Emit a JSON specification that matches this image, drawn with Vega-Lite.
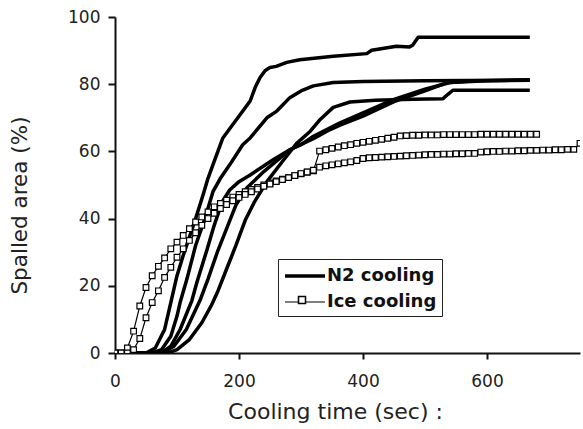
{
  "$schema": "https://vega.github.io/schema/vega-lite/v6.json",
  "width": 465,
  "height": 336,
  "autosize": {"type": "none"},
  "padding": {"left": 115, "top": 17, "right": 3, "bottom": 76},
  "background": "white",
  "config": {"view": {"stroke": null}},
  "data": {"values": [
    {"s":"A","g":"N2 cooling","t":0,"v":0},{"s":"A","g":"N2 cooling","t":50,"v":0},{"s":"A","g":"N2 cooling","t":65,"v":1.5},{"s":"A","g":"N2 cooling","t":80,"v":7},{"s":"A","g":"N2 cooling","t":90,"v":15},{"s":"A","g":"N2 cooling","t":100,"v":23},{"s":"A","g":"N2 cooling","t":110,"v":29},{"s":"A","g":"N2 cooling","t":120,"v":34.5},{"s":"A","g":"N2 cooling","t":130,"v":40},{"s":"A","g":"N2 cooling","t":142,"v":47},{"s":"A","g":"N2 cooling","t":150,"v":52},{"s":"A","g":"N2 cooling","t":160,"v":57},{"s":"A","g":"N2 cooling","t":174,"v":64},{"s":"A","g":"N2 cooling","t":190,"v":68},{"s":"A","g":"N2 cooling","t":202,"v":71},{"s":"A","g":"N2 cooling","t":210,"v":73},{"s":"A","g":"N2 cooling","t":218,"v":75},{"s":"A","g":"N2 cooling","t":226,"v":79},{"s":"A","g":"N2 cooling","t":234,"v":82},{"s":"A","g":"N2 cooling","t":242,"v":84},{"s":"A","g":"N2 cooling","t":250,"v":85},{"s":"A","g":"N2 cooling","t":260,"v":85.3},{"s":"A","g":"N2 cooling","t":277,"v":86.5},{"s":"A","g":"N2 cooling","t":298,"v":87.3},{"s":"A","g":"N2 cooling","t":352,"v":88.3},{"s":"A","g":"N2 cooling","t":406,"v":89.1},{"s":"A","g":"N2 cooling","t":414,"v":90.1},{"s":"A","g":"N2 cooling","t":454,"v":91.3},{"s":"A","g":"N2 cooling","t":475,"v":91.1},{"s":"A","g":"N2 cooling","t":480,"v":91.6},{"s":"A","g":"N2 cooling","t":489,"v":94},{"s":"A","g":"N2 cooling","t":669,"v":94},
    {"s":"B","g":"N2 cooling","t":0,"v":0},{"s":"B","g":"N2 cooling","t":60,"v":0},{"s":"B","g":"N2 cooling","t":75,"v":1},{"s":"B","g":"N2 cooling","t":90,"v":5},{"s":"B","g":"N2 cooling","t":100,"v":11},{"s":"B","g":"N2 cooling","t":105,"v":15},{"s":"B","g":"N2 cooling","t":116,"v":22},{"s":"B","g":"N2 cooling","t":130,"v":32},{"s":"B","g":"N2 cooling","t":145,"v":40},{"s":"B","g":"N2 cooling","t":158,"v":48},{"s":"B","g":"N2 cooling","t":170,"v":52},{"s":"B","g":"N2 cooling","t":185,"v":56},{"s":"B","g":"N2 cooling","t":206,"v":62},{"s":"B","g":"N2 cooling","t":218,"v":64},{"s":"B","g":"N2 cooling","t":245,"v":70},{"s":"B","g":"N2 cooling","t":261,"v":72},{"s":"B","g":"N2 cooling","t":282,"v":76},{"s":"B","g":"N2 cooling","t":300,"v":78},{"s":"B","g":"N2 cooling","t":320,"v":79.5},{"s":"B","g":"N2 cooling","t":352,"v":80.5},{"s":"B","g":"N2 cooling","t":400,"v":80.8},{"s":"B","g":"N2 cooling","t":500,"v":81},{"s":"B","g":"N2 cooling","t":669,"v":81.2},
    {"s":"C","g":"N2 cooling","t":0,"v":0},{"s":"C","g":"N2 cooling","t":75,"v":0},{"s":"C","g":"N2 cooling","t":90,"v":2},{"s":"C","g":"N2 cooling","t":105,"v":7},{"s":"C","g":"N2 cooling","t":124,"v":15.6},{"s":"C","g":"N2 cooling","t":132,"v":21},{"s":"C","g":"N2 cooling","t":148,"v":30.5},{"s":"C","g":"N2 cooling","t":160,"v":38},{"s":"C","g":"N2 cooling","t":173,"v":45},{"s":"C","g":"N2 cooling","t":185,"v":48.5},{"s":"C","g":"N2 cooling","t":200,"v":51},{"s":"C","g":"N2 cooling","t":218,"v":53},{"s":"C","g":"N2 cooling","t":255,"v":57.5},{"s":"C","g":"N2 cooling","t":282,"v":60.5},{"s":"C","g":"N2 cooling","t":300,"v":62},{"s":"C","g":"N2 cooling","t":320,"v":64.5},{"s":"C","g":"N2 cooling","t":363,"v":68.5},{"s":"C","g":"N2 cooling","t":400,"v":71.5},{"s":"C","g":"N2 cooling","t":450,"v":75.5},{"s":"C","g":"N2 cooling","t":500,"v":78.5},{"s":"C","g":"N2 cooling","t":540,"v":80.5},{"s":"C","g":"N2 cooling","t":600,"v":81},{"s":"C","g":"N2 cooling","t":669,"v":81.3},
    {"s":"D","g":"N2 cooling","t":0,"v":0},{"s":"D","g":"N2 cooling","t":75,"v":0},{"s":"D","g":"N2 cooling","t":95,"v":2},{"s":"D","g":"N2 cooling","t":115,"v":7},{"s":"D","g":"N2 cooling","t":137,"v":15.6},{"s":"D","g":"N2 cooling","t":150,"v":22},{"s":"D","g":"N2 cooling","t":165,"v":30},{"s":"D","g":"N2 cooling","t":180,"v":37},{"s":"D","g":"N2 cooling","t":195,"v":44},{"s":"D","g":"N2 cooling","t":212,"v":49},{"s":"D","g":"N2 cooling","t":240,"v":54},{"s":"D","g":"N2 cooling","t":266,"v":58},{"s":"D","g":"N2 cooling","t":282,"v":60.5},{"s":"D","g":"N2 cooling","t":320,"v":63.8},{"s":"D","g":"N2 cooling","t":347,"v":66.5},{"s":"D","g":"N2 cooling","t":363,"v":67.8},{"s":"D","g":"N2 cooling","t":400,"v":70.5},{"s":"D","g":"N2 cooling","t":450,"v":74.8},{"s":"D","g":"N2 cooling","t":500,"v":78},{"s":"D","g":"N2 cooling","t":535,"v":80.4},{"s":"D","g":"N2 cooling","t":580,"v":81},{"s":"D","g":"N2 cooling","t":669,"v":81.2},
    {"s":"E","g":"N2 cooling","t":0,"v":0},{"s":"E","g":"N2 cooling","t":85,"v":0},{"s":"E","g":"N2 cooling","t":100,"v":1},{"s":"E","g":"N2 cooling","t":120,"v":4},{"s":"E","g":"N2 cooling","t":140,"v":9},{"s":"E","g":"N2 cooling","t":155,"v":14},{"s":"E","g":"N2 cooling","t":165,"v":18},{"s":"E","g":"N2 cooling","t":180,"v":25},{"s":"E","g":"N2 cooling","t":195,"v":32},{"s":"E","g":"N2 cooling","t":210,"v":39.5},{"s":"E","g":"N2 cooling","t":225,"v":45},{"s":"E","g":"N2 cooling","t":245,"v":51},{"s":"E","g":"N2 cooling","t":270,"v":57},{"s":"E","g":"N2 cooling","t":293,"v":62.4},{"s":"E","g":"N2 cooling","t":315,"v":66},{"s":"E","g":"N2 cooling","t":331,"v":69.5},{"s":"E","g":"N2 cooling","t":352,"v":73.1},{"s":"E","g":"N2 cooling","t":379,"v":74.7},{"s":"E","g":"N2 cooling","t":420,"v":75.2},{"s":"E","g":"N2 cooling","t":480,"v":75.5},{"s":"E","g":"N2 cooling","t":529,"v":75.7},{"s":"E","g":"N2 cooling","t":537,"v":77},{"s":"E","g":"N2 cooling","t":545,"v":78.2},{"s":"E","g":"N2 cooling","t":669,"v":78.2},
    {"s":"I1","g":"Ice cooling","t":0,"v":0},{"s":"I1","g":"Ice cooling","t":10,"v":0},{"s":"I1","g":"Ice cooling","t":20,"v":1.5},{"s":"I1","g":"Ice cooling","t":30,"v":6.5},{"s":"I1","g":"Ice cooling","t":40,"v":14},{"s":"I1","g":"Ice cooling","t":50,"v":19.5},{"s":"I1","g":"Ice cooling","t":60,"v":23},{"s":"I1","g":"Ice cooling","t":70,"v":25.8},{"s":"I1","g":"Ice cooling","t":80,"v":28.3},{"s":"I1","g":"Ice cooling","t":90,"v":31},{"s":"I1","g":"Ice cooling","t":100,"v":33},{"s":"I1","g":"Ice cooling","t":110,"v":35},{"s":"I1","g":"Ice cooling","t":120,"v":37},{"s":"I1","g":"Ice cooling","t":130,"v":39},{"s":"I1","g":"Ice cooling","t":140,"v":40.5},{"s":"I1","g":"Ice cooling","t":150,"v":42},{"s":"I1","g":"Ice cooling","t":160,"v":43.5},{"s":"I1","g":"Ice cooling","t":170,"v":44.5},{"s":"I1","g":"Ice cooling","t":180,"v":45.5},{"s":"I1","g":"Ice cooling","t":190,"v":46.4},{"s":"I1","g":"Ice cooling","t":200,"v":47.2},{"s":"I1","g":"Ice cooling","t":210,"v":48},{"s":"I1","g":"Ice cooling","t":220,"v":48.7},{"s":"I1","g":"Ice cooling","t":230,"v":49.3},{"s":"I1","g":"Ice cooling","t":240,"v":50},{"s":"I1","g":"Ice cooling","t":250,"v":50.6},{"s":"I1","g":"Ice cooling","t":260,"v":51.2},{"s":"I1","g":"Ice cooling","t":270,"v":51.7},{"s":"I1","g":"Ice cooling","t":280,"v":52.2},{"s":"I1","g":"Ice cooling","t":290,"v":52.8},{"s":"I1","g":"Ice cooling","t":300,"v":53.3},{"s":"I1","g":"Ice cooling","t":310,"v":53.8},{"s":"I1","g":"Ice cooling","t":320,"v":54.2},{"s":"I1","g":"Ice cooling","t":330,"v":60.1},{"s":"I1","g":"Ice cooling","t":340,"v":60.5},{"s":"I1","g":"Ice cooling","t":350,"v":60.9},{"s":"I1","g":"Ice cooling","t":360,"v":61.3},{"s":"I1","g":"Ice cooling","t":370,"v":61.7},{"s":"I1","g":"Ice cooling","t":380,"v":62},{"s":"I1","g":"Ice cooling","t":390,"v":62.4},{"s":"I1","g":"Ice cooling","t":400,"v":62.7},{"s":"I1","g":"Ice cooling","t":410,"v":63},{"s":"I1","g":"Ice cooling","t":420,"v":63.3},{"s":"I1","g":"Ice cooling","t":430,"v":63.6},{"s":"I1","g":"Ice cooling","t":440,"v":63.9},{"s":"I1","g":"Ice cooling","t":450,"v":64.2},{"s":"I1","g":"Ice cooling","t":460,"v":64.6},{"s":"I1","g":"Ice cooling","t":470,"v":64.7},{"s":"I1","g":"Ice cooling","t":480,"v":64.8},{"s":"I1","g":"Ice cooling","t":490,"v":64.8},{"s":"I1","g":"Ice cooling","t":500,"v":64.9},{"s":"I1","g":"Ice cooling","t":510,"v":64.9},{"s":"I1","g":"Ice cooling","t":520,"v":64.9},{"s":"I1","g":"Ice cooling","t":530,"v":65},{"s":"I1","g":"Ice cooling","t":540,"v":65},{"s":"I1","g":"Ice cooling","t":550,"v":65},{"s":"I1","g":"Ice cooling","t":560,"v":65},{"s":"I1","g":"Ice cooling","t":570,"v":65},{"s":"I1","g":"Ice cooling","t":580,"v":65},{"s":"I1","g":"Ice cooling","t":590,"v":65.1},{"s":"I1","g":"Ice cooling","t":600,"v":65.1},{"s":"I1","g":"Ice cooling","t":610,"v":65.1},{"s":"I1","g":"Ice cooling","t":620,"v":65.1},{"s":"I1","g":"Ice cooling","t":630,"v":65.1},{"s":"I1","g":"Ice cooling","t":640,"v":65.1},{"s":"I1","g":"Ice cooling","t":650,"v":65.1},{"s":"I1","g":"Ice cooling","t":660,"v":65.1},{"s":"I1","g":"Ice cooling","t":670,"v":65.1},{"s":"I1","g":"Ice cooling","t":680,"v":65.1},
    {"s":"I2","g":"Ice cooling","t":0,"v":0},{"s":"I2","g":"Ice cooling","t":10,"v":0},{"s":"I2","g":"Ice cooling","t":20,"v":0},{"s":"I2","g":"Ice cooling","t":30,"v":1},{"s":"I2","g":"Ice cooling","t":40,"v":4.3},{"s":"I2","g":"Ice cooling","t":50,"v":10.5},{"s":"I2","g":"Ice cooling","t":60,"v":15},{"s":"I2","g":"Ice cooling","t":70,"v":18.5},{"s":"I2","g":"Ice cooling","t":80,"v":22.5},{"s":"I2","g":"Ice cooling","t":90,"v":25.5},{"s":"I2","g":"Ice cooling","t":100,"v":28.5},{"s":"I2","g":"Ice cooling","t":110,"v":31},{"s":"I2","g":"Ice cooling","t":120,"v":33.5},{"s":"I2","g":"Ice cooling","t":130,"v":35.8},{"s":"I2","g":"Ice cooling","t":140,"v":38},{"s":"I2","g":"Ice cooling","t":150,"v":40},{"s":"I2","g":"Ice cooling","t":160,"v":41.6},{"s":"I2","g":"Ice cooling","t":170,"v":43},{"s":"I2","g":"Ice cooling","t":180,"v":44.2},{"s":"I2","g":"Ice cooling","t":190,"v":45.3},{"s":"I2","g":"Ice cooling","t":200,"v":46.3},{"s":"I2","g":"Ice cooling","t":210,"v":47.2},{"s":"I2","g":"Ice cooling","t":220,"v":48},{"s":"I2","g":"Ice cooling","t":230,"v":48.8},{"s":"I2","g":"Ice cooling","t":240,"v":49.6},{"s":"I2","g":"Ice cooling","t":250,"v":50.3},{"s":"I2","g":"Ice cooling","t":260,"v":51},{"s":"I2","g":"Ice cooling","t":270,"v":51.6},{"s":"I2","g":"Ice cooling","t":280,"v":52.2},{"s":"I2","g":"Ice cooling","t":290,"v":52.8},{"s":"I2","g":"Ice cooling","t":300,"v":53.4},{"s":"I2","g":"Ice cooling","t":310,"v":53.9},{"s":"I2","g":"Ice cooling","t":320,"v":54.4},{"s":"I2","g":"Ice cooling","t":330,"v":55.3},{"s":"I2","g":"Ice cooling","t":340,"v":55.7},{"s":"I2","g":"Ice cooling","t":350,"v":56},{"s":"I2","g":"Ice cooling","t":360,"v":56.3},{"s":"I2","g":"Ice cooling","t":370,"v":56.6},{"s":"I2","g":"Ice cooling","t":380,"v":56.9},{"s":"I2","g":"Ice cooling","t":390,"v":57.3},{"s":"I2","g":"Ice cooling","t":400,"v":57.9},{"s":"I2","g":"Ice cooling","t":410,"v":58.1},{"s":"I2","g":"Ice cooling","t":420,"v":58.2},{"s":"I2","g":"Ice cooling","t":430,"v":58.3},{"s":"I2","g":"Ice cooling","t":440,"v":58.4},{"s":"I2","g":"Ice cooling","t":450,"v":58.5},{"s":"I2","g":"Ice cooling","t":460,"v":58.6},{"s":"I2","g":"Ice cooling","t":470,"v":58.7},{"s":"I2","g":"Ice cooling","t":480,"v":58.8},{"s":"I2","g":"Ice cooling","t":490,"v":58.9},{"s":"I2","g":"Ice cooling","t":500,"v":59},{"s":"I2","g":"Ice cooling","t":510,"v":59.1},{"s":"I2","g":"Ice cooling","t":520,"v":59.1},{"s":"I2","g":"Ice cooling","t":530,"v":59.2},{"s":"I2","g":"Ice cooling","t":540,"v":59.2},{"s":"I2","g":"Ice cooling","t":550,"v":59.3},{"s":"I2","g":"Ice cooling","t":560,"v":59.3},{"s":"I2","g":"Ice cooling","t":570,"v":59.4},{"s":"I2","g":"Ice cooling","t":580,"v":59.4},{"s":"I2","g":"Ice cooling","t":590,"v":59.8},{"s":"I2","g":"Ice cooling","t":600,"v":59.9},{"s":"I2","g":"Ice cooling","t":610,"v":60},{"s":"I2","g":"Ice cooling","t":620,"v":60},{"s":"I2","g":"Ice cooling","t":630,"v":60.1},{"s":"I2","g":"Ice cooling","t":640,"v":60.1},{"s":"I2","g":"Ice cooling","t":650,"v":60.2},{"s":"I2","g":"Ice cooling","t":660,"v":60.2},{"s":"I2","g":"Ice cooling","t":670,"v":60.3},{"s":"I2","g":"Ice cooling","t":680,"v":60.3},{"s":"I2","g":"Ice cooling","t":690,"v":60.4},{"s":"I2","g":"Ice cooling","t":700,"v":60.4},{"s":"I2","g":"Ice cooling","t":710,"v":60.5},{"s":"I2","g":"Ice cooling","t":720,"v":60.5},{"s":"I2","g":"Ice cooling","t":730,"v":60.6},{"s":"I2","g":"Ice cooling","t":740,"v":60.6},{"s":"I2","g":"Ice cooling","t":750,"v":62.4}
  ]},
  "encoding": {
    "x": {"field": "t", "type": "quantitative", "scale": {"domain": [0, 750], "nice": false},
      "axis": {"values": [0, 200, 400, 600], "grid": false, "domainColor": "#111", "domainWidth": 2, "tickColor": "#111", "tickWidth": 2, "tickSize": 6, "labelPadding": 14, "labelFont": "DejaVu Sans", "labelFontSize": 17, "labelColor": "#222", "labelFlush": false,
        "title": "Cooling time (sec) :", "titleFont": "DejaVu Sans", "titleFontSize": 22, "titleFontWeight": "normal", "titleColor": "#222", "titleX": 220, "titleY": 65, "titleAlign": "center", "titleBaseline": "alphabetic"}},
    "y": {"field": "v", "type": "quantitative", "scale": {"domain": [0, 100], "nice": false},
      "axis": {"values": [0, 20, 40, 60, 80, 100], "grid": false, "domainColor": "#111", "domainWidth": 2, "tickColor": "#111", "tickWidth": 2, "tickSize": 7, "labelPadding": 8, "labelFont": "DejaVu Sans", "labelFontSize": 17, "labelColor": "#222",
        "title": "Spalled area (%)", "titleFont": "DejaVu Sans", "titleFontSize": 21.5, "titleFontWeight": "normal", "titleColor": "#222", "titleX": -95, "titleY": 188, "titleAngle": -90, "titleAlign": "center", "titleBaseline": "middle"}}
  },
  "layer": [
    {
      "mark": {"type": "line", "color": "black", "clip": true, "strokeJoin": "round", "strokeCap": "butt"},
      "encoding": {
        "detail": {"field": "s", "type": "nominal"},
        "strokeWidth": {"field": "g", "type": "nominal",
          "scale": {"type": "ordinal", "domain": ["N2 cooling", "Ice cooling"], "range": [3.5, 1.2]},
          "legend": {"title": null, "orient": "none", "legendX": 163, "legendY": 242, "padding": 5, "strokeColor": "#222", "fillColor": "white",
            "symbolSize": 400, "symbolType": "M-1,0L3,0", "labelOffset": 20, "rowPadding": 6, "labelFont": "DejaVu Sans", "labelFontWeight": "bold", "labelFontSize": 18, "labelColor": "#111",
            "encode": {"symbols": {"update": {
              "shape": {"value": "M-1,0L3,0"},
              "strokeWidth": {"signal": "datum.value === 'Ice cooling' ? 1.4 : 3.5"},
              "stroke": {"value": "black"},
              "opacity": {"value": 1}
            }}}}
        }
      }
    },
    {
      "transform": [{"filter": "datum.g === 'Ice cooling'"}],
      "mark": {"type": "point", "filled": true, "fill": "white", "stroke": "black", "strokeWidth": 1.2, "size": 32, "opacity": 1, "clip": true},
      "encoding": {
        "shape": {"field": "g", "type": "nominal",
          "scale": {"domain": ["Ice cooling"], "range": ["square"]},
          "legend": {"title": null, "orient": "none", "legendX": 178, "legendY": 274, "padding": 0, "strokeColor": null, "fillColor": null,
            "symbolSize": 49, "labelExpr": "''", "labelFontSize": 18, "labelFont": "DejaVu Sans", "labelOffset": 0,
            "encode": {"symbols": {"update": {
              "fill": {"value": "white"},
              "stroke": {"value": "black"},
              "strokeWidth": {"value": 1.3},
              "opacity": {"value": 1}
            }}}}
        }
      }
    }
  ]
}
